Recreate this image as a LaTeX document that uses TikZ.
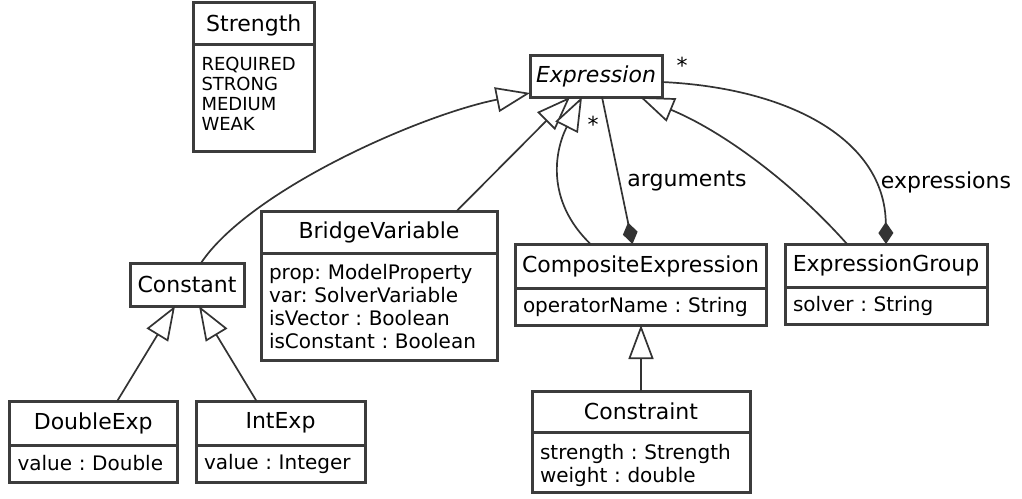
\documentclass[tikz,border=0pt]{standalone}
\usepackage{fontspec}
\setmainfont{DejaVu Sans}
\usetikzlibrary{arrows.meta}
\definecolor{boxgray}{HTML}{3C3C3C}
\definecolor{linegray}{HTML}{333333}
\tikzset{
  box/.style={draw=boxgray, line width=3pt, fill=white, inner sep=0pt, outer sep=0pt, anchor=north west},
  ttl/.style={box, font=\fontsize{22}{26}\selectfont, align=center},
  attrs/.style={box, font=\fontsize{20}{22.8}\selectfont, align=left, inner xsep=8pt},
  conn/.style={draw=linegray, line width=1.7pt},
  gen/.style={conn, -{Triangle[length=34pt, width=25pt, fill=white]}},
  comp/.style={conn, -{Diamond[length=22pt, width=15pt]}},
  lbl/.style={font=\fontsize{22}{26}\selectfont, inner sep=0pt},
}
\begin{document}
\frenchspacing
\begin{tikzpicture}[x=1pt, y=-1pt]
\useasboundingbox (0,0) rectangle (1022,498);

% enumeration
\node[ttl, minimum width=120.5pt, minimum height=41.5pt, text depth=0pt] (strength) at (193.5,2.5) {Strength};
\node[attrs, font=\fontsize{18}{20}\selectfont, text width=104.5pt, minimum height=107.5pt] (strength-a) at (strength.south west)
  {REQUIRED\\STRONG\\MEDIUM\\WEAK\rule[-8pt]{0pt}{8pt}};

% abstract base class
\node[ttl, font=\fontsize{22}{26}\selectfont\itshape, minimum width=132pt, minimum height=42pt] (expr) at (530,55) {Expression};

% subclasses
\node[ttl, minimum width=114pt, minimum height=43pt] (const) at (130,263) {Constant};

\node[ttl, minimum width=236pt, minimum height=42pt] (bv) at (261,211) {BridgeVariable};
\node[attrs, text width=220pt, minimum height=107pt] (bv-a) at (bv.south west)
  {prop: ModelProperty\\var: SolverVariable\\isVector : Boolean\\isConstant : Boolean};

\node[ttl, minimum width=167.5pt, minimum height=44pt] (dbl) at (9.5,401) {DoubleExp};
\node[attrs, text width=151.5pt, minimum height=37pt] (dbl-a) at (dbl.south west) {value : Double};

\node[ttl, minimum width=169pt, minimum height=44pt] (int) at (196,401) {IntExp};
\node[attrs, text width=153pt, minimum height=37pt] (int-a) at (int.south west) {value : Integer};

\node[ttl, minimum width=251pt, minimum height=44pt] (ce) at (515,244) {CompositeExpression};
\node[attrs, text width=235pt, minimum height=37pt] (ce-a) at (ce.south west) {operatorName : String};

\node[ttl, minimum width=202pt, minimum height=43pt] (eg) at (785,244) {ExpressionGroup};
\node[attrs, text width=186pt, minimum height=37pt] (eg-a) at (eg.south west) {solver : String};

\node[ttl, minimum width=218pt, minimum height=41pt] (cons) at (532,391) {Constraint};
\node[attrs, text width=202pt, minimum height=60pt] (cons-a) at (cons.south west)
  {\rule{0pt}{22pt}strength : Strength\\weight : double};

% generalisations
\draw[gen] ([xshift=24pt]dbl.north) -- ([xshift=-12pt]const.south);
\draw[gen] ([xshift=-24pt]int.north) -- ([xshift=12pt]const.south);
\draw[gen] ([xshift=14pt]const.north) .. controls (250,190) and (420,115) .. ([yshift=4pt]expr.south west);
\draw[gen] ([xshift=77.7pt]bv.north) -- ([xshift=-26pt]expr.south);
\draw[gen] ([xshift=-50pt]ce.north) .. controls (545,200) and (555,150) .. ([xshift=-14pt]expr.south);
\draw[gen] ([xshift=-39pt]eg.north) .. controls (790,180) and (720,130) .. ([xshift=44pt]expr.south);
\draw[gen] (cons.north) -- (cons.north |- ce-a.south);

% compositions
\draw[comp] ([xshift=6pt]expr.south) -- ([xshift=-8pt]ce.north);
\draw[comp] ([yshift=-6pt]expr.east) .. controls (790,88) and (885,140) .. (eg.north);

% role names and multiplicities
\node[lbl] (argl) at (687,181) {arguments};
\node[lbl] (argm) at (593,124) {*};
\node[lbl] (expl) at (946,182) {expressions};
\node[lbl] (expm) at (682,65) {*};
\end{tikzpicture}
\end{document}
